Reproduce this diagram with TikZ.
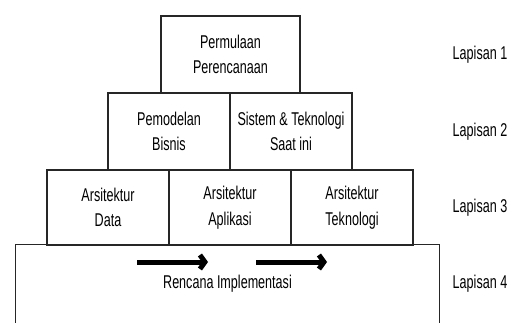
\documentclass[tikz,border=0pt]{standalone}
\usepackage{fontspec}
\setmainfont{Liberation Sans}[FakeStretch=0.68]
\usetikzlibrary{arrows.meta}

\tikzset{
  blok/.style={draw=black!85, line width=1.2pt, minimum width=122pt, minimum height=77pt,
    inner sep=0pt, align=center},
  panah/.style={line width=5pt, -{Straight Barb[length=5pt,width=14pt]}}
}

\begin{document}
\begin{tikzpicture}[x=1pt,y=-1pt,font=\fontsize{18.5}{25.5}\selectfont]
\useasboundingbox (0,0) rectangle (516,323);

% lapisan 1
\node[blok, minimum width=139pt] (awal) at (230.5,54.5) {Permulaan\\Perencanaan};

% lapisan 2
\node[blok] (bisnis) at (169,131.5) {Pemodelan\\Bisnis};
\node[blok] (sistem) at (291,131.5) {Sistem \& Teknologi\\Saat ini};

% lapisan 3
\node[blok, minimum height=75pt] (data) at (108,207.5) {Arsitektur\\Data};
\node[blok, minimum height=75pt] (aplikasi) at (230,207.5) {Arsitektur\\Aplikasi};
\node[blok, minimum height=75pt] (teknologi) at (352,207.5) {Arsitektur\\Teknologi};

% lapisan 4 (terbuka di bawah)
\node[inner sep=0pt, minimum width=423pt, minimum height=78pt] (impl) at (227.5,284) {Rencana Implementasi};
\draw[draw=black!85, line width=1.2pt] (impl.south west) |- (impl.north east) -- (impl.south east);

\coordinate (p1) at (137,262);
\coordinate (q1) at (208,262);
\coordinate (p2) at (256,262);
\coordinate (q2) at (327,262);
\draw[panah] (p1) -- (q1);
\draw[panah] (p2) -- (q2);

\foreach \y[count=\j] in {54.5,131.5,207.5,284}
{
  \node (lap\j) at (480,\y) {Lapisan \j};
}
\end{tikzpicture}
\end{document}
